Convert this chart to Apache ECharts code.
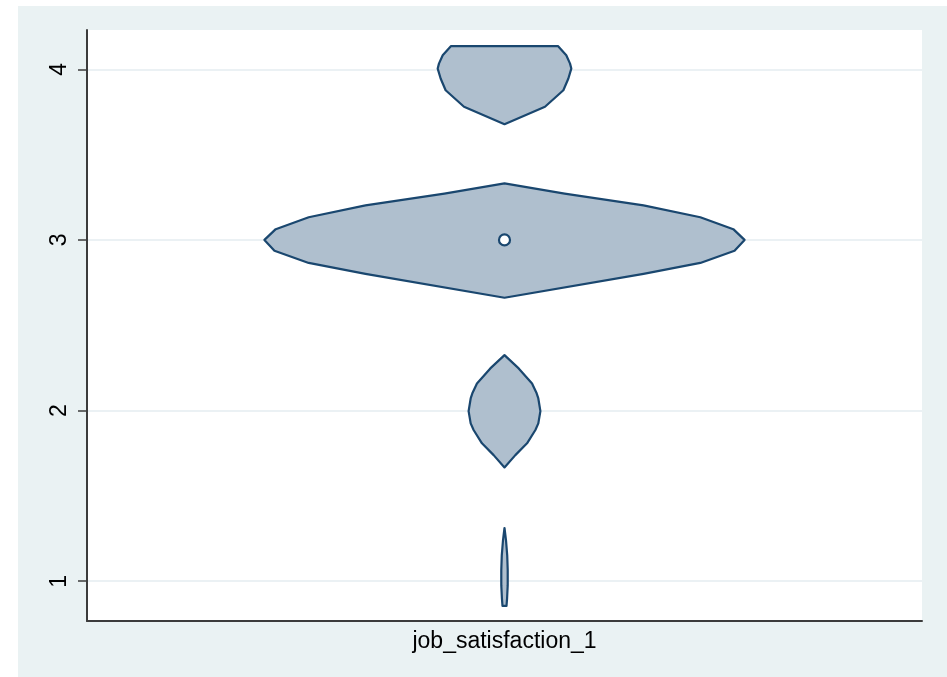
<!DOCTYPE html>
<html>
<head>
<meta charset="utf-8">
<script src="https://cdn.jsdelivr.net/npm/echarts@6/dist/echarts.min.js"></script>
<style>
  html, body { margin: 0; padding: 0; background: #ffffff; }
  #wrap { position: relative; width: 947px; height: 677px; }
  #bg { position: absolute; left: 18px; top: 6px; width: 929px; height: 671px; background: #eaf2f3; }
  #chart { position: absolute; left: 0; top: 0; width: 947px; height: 677px; }
</style>
</head>
<body>
<div id="wrap"><div id="bg"></div><div id="chart"></div></div>
<script>
// ---- data ----
const categories = ['job_satisfaction_1'];
const yTicks = [1, 2, 3, 4];
const yRange = [0.767, 4.23];
// violin outline: y values and half-widths (density, x-axis units), one blob per level
const blob4Y = [4.136, 4.082, 4.033, 4.004, 3.946, 3.877, 3.780, 3.678];
const blob4W = [0.128, 0.148, 0.157, 0.160, 0.153, 0.141, 0.097, 0];
const blob3Y = [3.331, 3.271, 3.202, 3.133, 3.063, 3.000, 2.936, 2.865, 2.801, 2.661];
const blob3W = [0, 0.144, 0.333, 0.469, 0.548, 0.575, 0.551, 0.469, 0.333, 0];
const blob2Y = [2.325, 2.247, 2.159, 2.101, 2.071, 1.997, 1.925, 1.886, 1.808, 1.739, 1.667];
const blob2W = [0, 0.034, 0.066, 0.077, 0.081, 0.086, 0.081, 0.074, 0.054, 0.026, 0];
const blob1Y = [1.312, 1.240, 1.152, 1.064, 0.977, 0.900, 0.856];
const blob1W = [0, 0.0036, 0.0065, 0.0077, 0.0077, 0.0062, 0.0048];
const medianValue = 3;

const blobs = [
  { y: blob4Y, w: blob4W },
  { y: blob3Y, w: blob3W },
  { y: blob2Y, w: blob2W },
  { y: blob1Y, w: blob1W }
];

const FILL = '#afbfce';
const STROKE = '#1a476f';
const AXIS = '#3c3c3c';
const FONT = '"Liberation Sans", Arial, Helvetica, sans-serif';

const chart = echarts.init(document.getElementById('chart'), null, { renderer: 'canvas' });

const option = {
  backgroundColor: 'transparent',
  animation: false,
  grid: {
    left: 87, right: 25, top: 30, bottom: 56,
    show: true, backgroundColor: '#ffffff', borderWidth: 0
  },
  xAxis: {
    type: 'value',
    min: -1, max: 1,
    name: categories[0],
    nameLocation: 'middle',
    nameGap: 9,
    nameTextStyle: { fontSize: 23, color: '#000', fontFamily: FONT, verticalAlign: 'top' },
    axisLine: { show: true, onZero: false, lineStyle: { color: AXIS, width: 2 } },
    axisTick: { show: false },
    axisLabel: { show: false },
    splitLine: { show: false }
  },
  yAxis: {
    type: 'value',
    min: yRange[0], max: yRange[1],
    axisLine: { show: true, onZero: false, lineStyle: { color: AXIS, width: 2 } },
    axisTick: { show: true, length: 9, customValues: yTicks, lineStyle: { color: AXIS, width: 1.5 } },
    axisLabel: {
      show: true, customValues: yTicks, rotate: 90, margin: 16,
      fontSize: 23, color: '#000', fontFamily: FONT,
      formatter: v => String(v)
    },
    splitLine: { show: true, lineStyle: { color: '#e4edf0', width: 1.5 } }
  },
  series: [
    {
      type: 'custom',
      data: blobs.map((b, i) => [i]),
      renderItem: function (params, api) {
        const b = blobs[params.dataIndex];
        const pts = [];
        for (let k = 0; k < b.y.length; k++) pts.push(api.coord([-b.w[k], b.y[k]]));
        for (let k = b.y.length - 1; k >= 0; k--) pts.push(api.coord([b.w[k], b.y[k]]));
        return {
          type: 'polygon',
          shape: { points: pts },
          style: { fill: FILL, stroke: STROKE, lineWidth: 2.2, lineJoin: 'round' }
        };
      },
      z: 2
    },
    {
      type: 'scatter',
      data: [[0, medianValue]],
      symbol: 'circle',
      symbolSize: 11,
      itemStyle: { color: '#ffffff', borderColor: STROKE, borderWidth: 2.2, opacity: 1 },
      z: 3
    }
  ]
};
chart.setOption(option);
</script>
</body>
</html>
